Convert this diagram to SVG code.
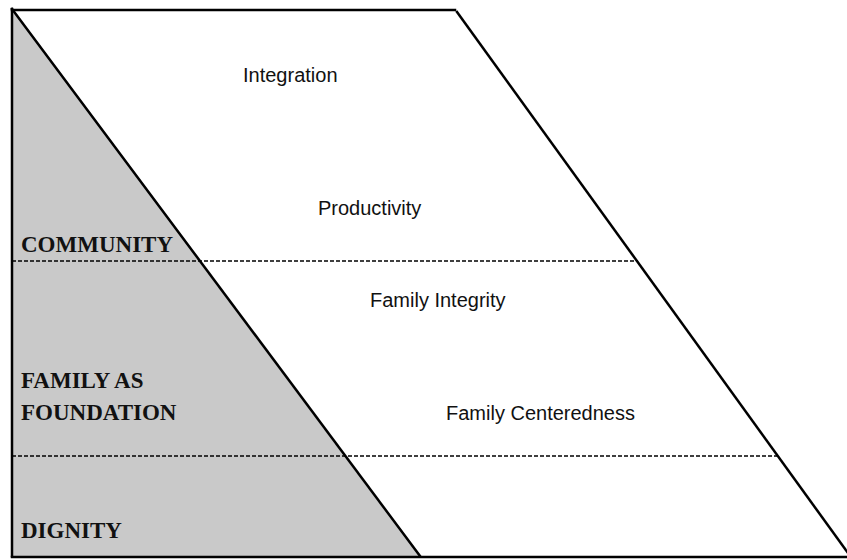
<svg xmlns="http://www.w3.org/2000/svg" width="847" height="560" viewBox="0 0 847 560">
<style>
.edge{stroke:#000;stroke-width:2.5;fill:none;stroke-linecap:square}
.dash{stroke:#000;stroke-width:1.5;stroke-dasharray:4 2;fill:none}
.lbl{font-family:"Liberation Serif","Times New Roman",serif;font-weight:bold;font-size:23px;fill:#111}
.val{font-family:"Liberation Sans",Arial,sans-serif;font-size:20px;fill:#111}
</style>
<rect width="847" height="560" fill="#fff"/>
<g id="shading">
<polygon points="12,9 12,556 420,556" fill="#c9c9c9"/>
</g>
<g id="connectors">
<line class="dash" x1="12" y1="261" x2="638" y2="261"/>
<line class="dash" x1="12" y1="456" x2="780" y2="456"/>
<line class="edge" x1="12" y1="10" x2="455" y2="10"/>
<line class="edge" x1="12" y1="9" x2="12" y2="556"/>
<line class="edge" x1="12" y1="9" x2="420" y2="556"/>
<line class="edge" x1="457" y1="12" x2="853" y2="560"/>
<line class="edge" x1="12" y1="557" x2="847" y2="557"/>
</g>
<g id="community"><text class="lbl" x="21" y="252">COMMUNITY</text></g>
<g id="family-as-foundation"><text class="lbl" x="21" y="388">FAMILY AS</text><text class="lbl" x="21" y="420">FOUNDATION</text></g>
<g id="dignity"><text class="lbl" x="21" y="538">DIGNITY</text></g>
<g id="integration"><text class="val" x="243" y="82">Integration</text></g>
<g id="productivity"><text class="val" x="318" y="215">Productivity</text></g>
<g id="family-integrity"><text class="val" x="370" y="307">Family Integrity</text></g>
<g id="family-centeredness"><text class="val" x="446" y="420">Family Centeredness</text></g>
</svg>
